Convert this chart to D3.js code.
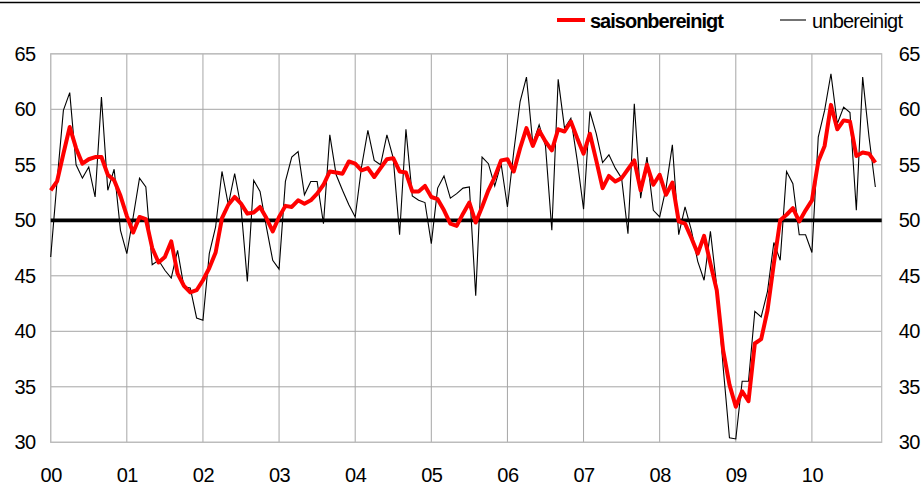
<!DOCTYPE html>
<html><head><meta charset="utf-8">
<script src="https://cdn.jsdelivr.net/npm/d3@7"></script>
<style>
body{margin:0;background:#fff;}
text{font-family:"Liberation Sans",Arial,sans-serif;fill:#000;}
</style></head>
<body>
<svg id="chart" width="924" height="486"></svg>
<script>
// Monthly values Jan 2000 – Nov 2010
const saisonbereinigt = [
  52.7, 53.5, 56.0, 58.4, 56.5, 55.1, 55.5, 55.7, 55.7, 54.1, 53.6, 52.2,
  50.4, 48.9, 50.3, 50.1, 47.5, 46.2, 46.7, 48.1, 45.2, 44.1, 43.5, 43.7,
  44.6, 45.7, 47.1, 50.2, 51.4, 52.1, 51.5, 50.6, 50.7, 51.2, 50.2, 49.0,
  50.3, 51.3, 51.2, 51.8, 51.5, 51.8, 52.4, 53.2, 54.4, 54.3, 54.2, 55.3,
  55.1, 54.5, 54.7, 53.9, 54.7, 55.5, 55.6, 54.4, 54.3, 52.6, 52.6, 53.1,
  52.1, 51.9, 50.9, 49.7, 49.5, 50.6, 51.6, 49.8, 51.2, 52.7, 53.9, 55.4,
  55.5, 54.4, 56.5, 58.3, 56.7, 58.1, 57.1, 56.3, 58.2, 58.0, 58.9, 57.4,
  56.0, 57.8, 55.4, 52.9, 54.0, 53.5, 53.8, 54.6, 55.4, 52.7, 55.0, 53.2,
  54.1, 52.3, 53.4, 49.9, 49.7, 48.4, 47.0, 48.6, 46.1, 43.7, 38.3, 35.2,
  33.2, 34.6, 33.7, 38.9, 39.3, 41.9, 46.1, 50.0, 50.5, 51.1, 49.9, 50.9,
  51.8, 55.3, 56.7, 60.4, 58.2, 59.0, 58.9, 55.8, 56.1, 56.0, 55.2
];
const unbereinigt = [
  46.7, 53.5, 59.9, 61.5, 55.0, 53.8, 54.8, 52.1, 61.1, 52.7, 54.6, 49.1,
  47.0, 50.3, 53.8, 53.0, 46.0, 46.4, 45.5, 44.8, 47.3, 44.0, 43.9, 41.2,
  41.0, 47.0, 49.4, 54.4, 51.4, 54.2, 51.2, 44.5, 53.6, 52.6, 49.4, 46.4,
  45.6, 53.5, 55.7, 56.2, 52.3, 53.5, 53.5, 49.7, 57.7, 54.1, 52.7, 51.4,
  50.3, 54.8, 58.1, 55.4, 55.0, 57.7, 55.6, 48.7, 58.2, 52.2, 51.8, 51.6,
  47.9, 52.9, 54.0, 52.0, 52.4, 52.9, 53.0, 43.2, 55.7, 55.1, 53.1, 55.1,
  51.2, 56.2, 60.7, 62.9, 56.9, 58.6, 56.7, 49.1, 62.7, 58.3, 59.2, 55.4,
  51.0, 59.8, 57.8, 55.2, 55.9, 54.7, 53.8, 48.8, 60.5, 52.0, 55.7, 50.9,
  50.3, 52.9, 56.8, 48.7, 51.2, 49.1, 46.3, 44.6, 49.0, 44.0, 36.8, 30.4,
  30.3, 35.5, 35.5, 41.8, 41.3, 43.6, 48.0, 46.4, 54.4, 53.3, 48.7, 48.7,
  47.1, 57.5, 59.9, 63.2, 58.7, 60.2, 59.7, 50.9, 62.9, 57.5, 53.0
];
const yearLabels = ["00","01","02","03","04","05","06","07","08","09","10"];
const yTicks = [30, 35, 40, 45, 50, 55, 60, 65];
const seriesNames = ["saisonbereinigt", "unbereinigt"];

const svg = d3.select("#chart");
const L = 50.7, R = 881.7, T = 53.8, B = 442.3;
const x = d3.scaleLinear().domain([0, 131]).range([L, R]);
const y = d3.scaleLinear().domain([30, 65]).range([B, T]);

// top rule
svg.append("line").attr("x1", 0).attr("x2", 920).attr("y1", 2.5).attr("y2", 2.5)
  .attr("stroke", "#000").attr("stroke-width", 1.5);

// gridlines
const g = svg.append("g");
g.selectAll(".hg").data(yTicks).join("line")
  .attr("x1", L).attr("x2", R).attr("y1", d => y(d)).attr("y2", d => y(d))
  .attr("stroke", "#a6a6a6").attr("stroke-width", 1);
g.selectAll(".vg").data(yearLabels).join("line")
  .attr("x1", (d, i) => x(i * 12)).attr("x2", (d, i) => x(i * 12))
  .attr("y1", T).attr("y2", B)
  .attr("stroke", "#a6a6a6").attr("stroke-width", 1);
// plot border
svg.append("rect").attr("x", L).attr("y", T).attr("width", R - L).attr("height", B - T)
  .attr("fill", "none").attr("stroke", "#bdbdbd").attr("stroke-width", 1.2);

// axes labels
const yAxisL = d3.axisLeft(y).tickValues(yTicks).tickSize(0).tickPadding(15);
const yAxisR = d3.axisRight(y).tickValues(yTicks).tickSize(0).tickPadding(17);
const styleAxis = sel => {
  sel.select(".domain").remove();
  sel.selectAll("text").attr("font-size", 20).attr("letter-spacing", "-0.5px")
    .style("font-family", "'Liberation Sans', Arial, sans-serif").attr("fill", "#000");
};
svg.append("g").attr("transform", `translate(${L},0)`).call(yAxisL).call(styleAxis);
svg.append("g").attr("transform", `translate(${R},0)`).call(yAxisR).call(styleAxis);

const xs = d3.scaleLinear().domain([0, 10]).range([x(0), x(120)]);
const xAxis = d3.axisBottom(xs).tickValues(d3.range(11)).tickFormat(i => yearLabels[i])
  .tickSize(0).tickPadding(26);
svg.append("g").attr("transform", `translate(0,${B})`).call(xAxis).call(styleAxis);

// 50 line
svg.append("line").attr("x1", L).attr("x2", R).attr("y1", y(50)).attr("y2", y(50))
  .attr("stroke", "#000").attr("stroke-width", 3.8);

const line = d3.line().x((d, i) => x(i)).y(d => y(d));
svg.append("path").datum(unbereinigt).attr("d", line)
  .attr("fill", "none").attr("stroke", "#000").attr("stroke-width", 1.1)
  .attr("stroke-linejoin", "miter");
svg.append("path").datum(saisonbereinigt).attr("d", line)
  .attr("fill", "none").attr("stroke", "#ff0000").attr("stroke-width", 4)
  .attr("stroke-linejoin", "round");

// legend
const lg = svg.append("g");
lg.append("line").attr("x1", 557).attr("x2", 585).attr("y1", 20).attr("y2", 20)
  .attr("stroke", "#ff0000").attr("stroke-width", 4);
lg.append("text").attr("x", 590).attr("y", 27.5).attr("font-size", 20)
  .attr("font-weight", "bold").attr("letter-spacing", "-1px").text(seriesNames[0]);
lg.append("line").attr("x1", 780).attr("x2", 806).attr("y1", 20).attr("y2", 20)
  .attr("stroke", "#000").attr("stroke-width", 1.1);
lg.append("text").attr("x", 812).attr("y", 27.5).attr("font-size", 20)
  .attr("letter-spacing", "-0.8px").text(seriesNames[1]);
</script>
</body></html>
